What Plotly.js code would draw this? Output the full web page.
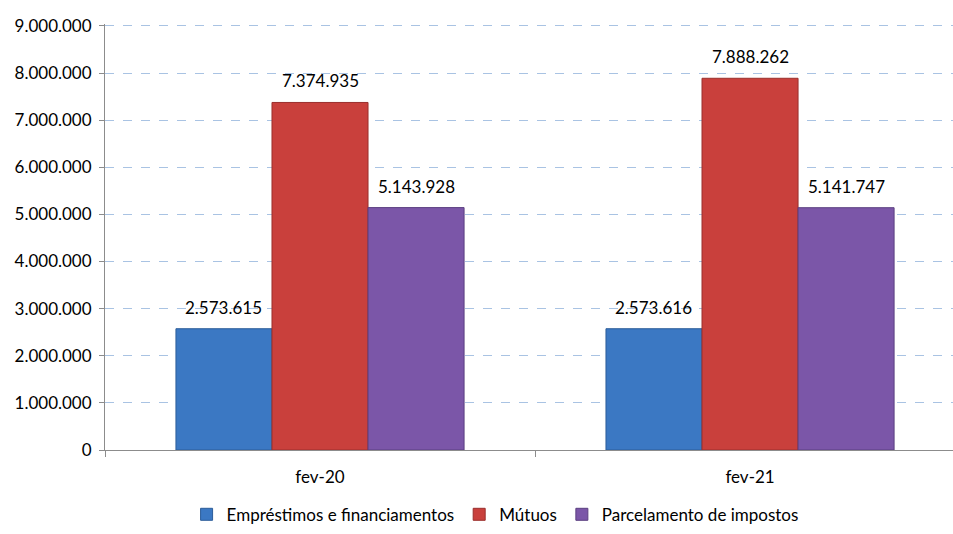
<!doctype html>
<html><head><meta charset="utf-8">
<script src="https://cdn.plot.ly/plotly-3.0.1.min.js"></script>
<style>body{margin:0;background:#fff}#chart{width:953px;height:534px}</style>
</head><body><div id="chart"></div>
<script>
// valores
const categorias = ['fev-20', 'fev-21'];
const series = ['Empréstimos e financiamentos', 'Mútuos', 'Parcelamento de impostos'];
const emprestimos = [2573615, 2573616];
const mutuos = [7374935, 7888262];
const parcelamento = [5143928, 5141747];
const yTicks = [0, 1000000, 2000000, 3000000, 4000000, 5000000, 6000000, 7000000, 8000000, 9000000];

const cores = ['#3b78c3', '#c9403c', '#7b56a8'];
const bordas = ['#2c5d99', '#9a2f2c', '#5b3f80'];
const FONT = 'Lato, "Open Sans", sans-serif';
const BARGAP = 0.33;

const fmt = (v) => String(Math.round(v)).replace(/\B(?=(\d{3})+(?!\d))/g, '.');
const valores = [emprestimos, mutuos, parcelamento];

const traces = valores.map((vals, i) => ({
  type: 'bar', name: series[i], x: categorias, y: vals,
  marker: { color: cores[i], line: { color: bordas[i], width: 1 } },
  hoverinfo: 'skip',
}));

// rótulos de dados acima das barras
const w = (1 - BARGAP) / valores.length;
const annotations = [];
valores.forEach((vals, i) => {
  vals.forEach((v, j) => {
    annotations.push({
      xref: 'x', yref: 'y', x: j + (i - 1) * w, y: v, text: fmt(v),
      showarrow: false, yanchor: 'bottom', yshift: 9,
      font: { family: FONT, size: 17, color: '#000' },
    });
  });
});

const layout = {
  width: 953, height: 534, separators: ',.',
  paper_bgcolor: '#fff', plot_bgcolor: '#fff',
  font: { family: FONT, size: 17, color: '#000' },
  margin: { l: 105, r: 0, t: 24, b: 84 },
  barmode: 'group', bargap: BARGAP, bargroupgap: 0,
  xaxis: {
    range: [-0.5, 1.472], showline: true, linecolor: '#8c8c8c', linewidth: 1,
    ticks: 'outside', tickson: 'boundaries', ticklen: 6, tickcolor: '#8c8c8c',
    showgrid: false, tickfont: { size: 17 }, ticklabelstandoff: 12,
  },
  yaxis: {
    range: [0, 9040000], tickvals: yTicks, tickformat: ',.0f',
    showline: true, linecolor: '#8c8c8c', linewidth: 1,
    ticks: 'outside', ticklen: 5, tickcolor: '#8c8c8c',
    gridcolor: '#a9c3e3', griddash: 'dash', gridwidth: 1, zeroline: false,
    tickfont: { size: 17 }, ticklabelstandoff: 4,
  },
  annotations,
  showlegend: true,
  legend: {
    orientation: 'h', x: 0.46, xanchor: 'center', y: -0.152, yanchor: 'middle',
    font: { size: 17 }, itemwidth: 30, traceorder: 'normal',
  },
};

Plotly.newPlot('chart', traces, layout, { displayModeBar: false, staticPlot: true });
</script></body></html>
